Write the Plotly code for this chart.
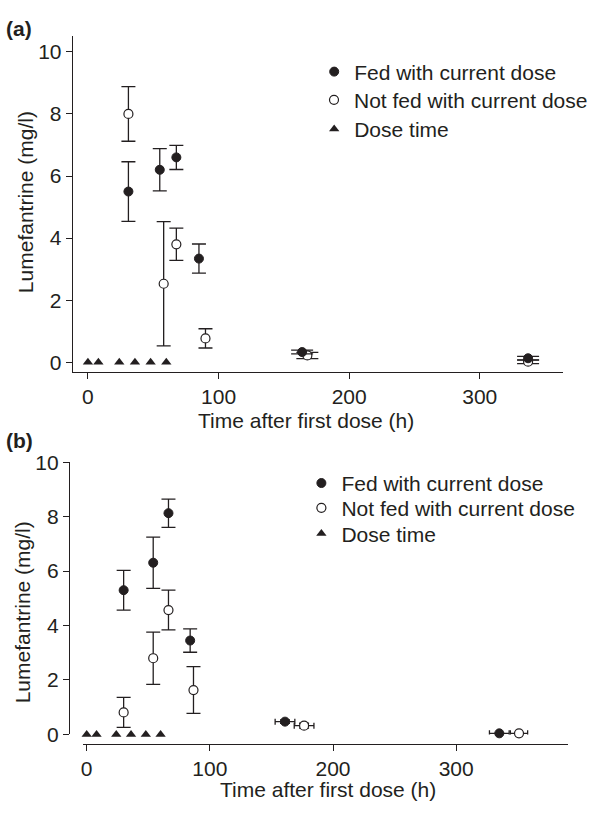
import plotly.graph_objects as go

# ---------------- data ----------------
# Panel (a)
a_fed_t = [31, 55, 67.7, 85]
a_fed_y = [5.5, 6.2, 6.6, 3.34]
a_fed_e = [0.96, 0.68, 0.39, 0.47]
a_nf_t = [31, 58, 67.7, 90]
a_nf_y = [8.0, 2.53, 3.8, 0.77]
a_nf_e = [0.88, 2.0, 0.52, 0.31]
a_fed_late_t = [164, 337]
a_fed_late_y = [0.33, 0.13]
a_fed_late_e = [0.06, 0.06]
a_nf_late_t = [168, 337]
a_nf_late_y = [0.22, 0.02]
a_nf_late_e = [0.1, 0.06]
a_dose_t = [0, 8, 24, 36, 48, 60]
a_dose_y = [0, 0, 0, 0, 0, 0]

# Panel (b)
b_fed_t = [30, 54, 66.4, 84]
b_fed_y = [5.3, 6.31, 8.13, 3.45]
b_fed_e = [0.73, 0.94, 0.52, 0.43]
b_nf_t = [30, 54, 66.4, 86.7]
b_nf_y = [0.81, 2.8, 4.57, 1.63]
b_nf_e = [0.55, 0.96, 0.73, 0.86]
b_fed_late_t = [161, 335]
b_fed_late_y = [0.47, 0.04]
b_fed_late_ex = [8, 8]
b_fed_late_ey = [0.06, 0.0]
b_nf_late_t = [176.5, 351]
b_nf_late_y = [0.32, 0.04]
b_nf_late_ex = [8, 7]
b_nf_late_ey = [0.09, 0.0]
b_dose_t = [0, 8, 24, 36, 48, 60]
b_dose_y = [0, 0, 0, 0, 0, 0]

x_ticks = [0, 100, 200, 300]
y_ticks = [0, 2, 4, 6, 8, 10]

names = ["Fed with current dose", "Not fed with current dose", "Dose time"]

# ---------------- style ----------------
INK = "#231f20"
FONT = "Liberation Sans, Arial, Helvetica, sans-serif"
FS = 21
W, H = 593, 819


def px_x(p):
    return p / W


def px_y(p):
    return 1 - p / H


fig = go.Figure()


def err(vals, width=7):
    return dict(type="data", array=vals, visible=True, color=INK, thickness=1.3, width=width)


fed_marker = dict(symbol="circle", size=9, color=INK, line=dict(color=INK, width=1))
nf_marker_fill = dict(symbol="circle", size=9, color="white", line=dict(color=INK, width=1.2))
tri_marker = dict(symbol="triangle-up", size=9, color=INK)


def add_panel(xa, ya, legends, fed_t, fed_y, fed_e, nf_t, nf_y, nf_e, dose_t, dose_y):
    fig.add_trace(go.Scatter(x=fed_t, y=fed_y, mode="markers", name=names[0],
                             marker=fed_marker, error_y=err(fed_e), xaxis=xa, yaxis=ya,
                             legend=legends[0], cliponaxis=False))
    fig.add_trace(go.Scatter(x=nf_t, y=nf_y, mode="markers", name=names[1],
                             marker=nf_marker_fill, error_y=err(nf_e), xaxis=xa, yaxis=ya,
                             legend=legends[1], cliponaxis=False))
    fig.add_trace(go.Scatter(x=dose_t, y=dose_y, mode="markers", name=names[2],
                             marker=tri_marker, xaxis=xa, yaxis=ya,
                             legend=legends[2], cliponaxis=False))


# panel (a)
add_panel("x", "y", ["legend", "legend2", "legend3"],
          a_fed_t, a_fed_y, a_fed_e, a_nf_t, a_nf_y, a_nf_e, a_dose_t, a_dose_y)
fig.add_trace(go.Scatter(x=a_nf_late_t, y=a_nf_late_y, mode="markers", showlegend=False,
                         marker=nf_marker_fill, error_y=err(a_nf_late_e, 11),
                         xaxis="x", yaxis="y", cliponaxis=False))
fig.add_trace(go.Scatter(x=a_fed_late_t, y=a_fed_late_y, mode="markers", showlegend=False,
                         marker=fed_marker, error_y=err(a_fed_late_e, 11),
                         xaxis="x", yaxis="y", cliponaxis=False))

# panel (b)
add_panel("x2", "y2", ["legend4", "legend5", "legend6"],
          b_fed_t, b_fed_y, b_fed_e, b_nf_t, b_nf_y, b_nf_e, b_dose_t, b_dose_y)
fig.add_trace(go.Scatter(x=b_fed_late_t, y=b_fed_late_y, mode="markers", showlegend=False,
                         marker=fed_marker, error_y=err(b_fed_late_ey, 5),
                         error_x=err(b_fed_late_ex, 3),
                         xaxis="x2", yaxis="y2", cliponaxis=False))
fig.add_trace(go.Scatter(x=b_nf_late_t, y=b_nf_late_y, mode="markers", showlegend=False,
                         marker=nf_marker_fill, error_y=err(b_nf_late_ey, 5),
                         error_x=err(b_nf_late_ex, 3),
                         xaxis="x2", yaxis="y2", cliponaxis=False))

axis_common = dict(showline=True, linecolor=INK, linewidth=1.3, ticks="outside",
                   ticklen=6, tickwidth=1.3, tickcolor=INK, showgrid=False, zeroline=False,
                   tickfont=dict(family=FONT, size=FS, color=INK))


def leg(xp, yp):
    return dict(x=px_x(xp), y=px_y(yp), xanchor="left", yanchor="middle",
                bgcolor="rgba(0,0,0,0)", font=dict(family=FONT, size=FS, color=INK),
                itemwidth=30, borderwidth=0)


fig.update_layout(
    width=W, height=H,
    margin=dict(l=0, r=0, t=0, b=0),
    paper_bgcolor="white", plot_bgcolor="white",
    font=dict(family=FONT, size=FS, color=INK),
    xaxis=dict(domain=[px_x(72), px_x(570)], range=[-11.5, 364], anchor="y",
               tickvals=x_ticks, **axis_common),
    yaxis=dict(domain=[px_y(370), px_y(25)], range=[-0.3, 10.5], anchor="x",
               tickvals=y_ticks, **axis_common),
    xaxis2=dict(domain=[px_x(82), px_x(575)], range=[-3.2, 391], anchor="free",
                position=px_y(753), tickvals=x_ticks, **axis_common),
    yaxis2=dict(domain=[px_y(743.3), px_y(463.3)], range=[0, 10], anchor="free",
                position=px_x(68), tickvals=y_ticks, **axis_common),
    legend=leg(317, 61.7),
    legend2=leg(317, 90.7),
    legend3=leg(317, 120.7),
    legend4=leg(304, 485),
    legend5=leg(304, 510.5),
    legend6=leg(304, 537),
    annotations=[
        dict(text="<b>(a)</b>", x=px_x(2), y=px_y(17), xref="paper", yref="paper",
             xanchor="left", yanchor="middle", showarrow=False, font=dict(size=FS, color=INK)),
        dict(text="<b>(b)</b>", x=px_x(2), y=px_y(441), xref="paper", yref="paper",
             xanchor="left", yanchor="middle", showarrow=False, font=dict(size=FS, color=INK)),
        dict(text="Time after first dose (h)", x=px_x(309), y=px_y(420), xref="paper", yref="paper",
             xanchor="center", yanchor="middle", showarrow=False, font=dict(size=FS, color=INK)),
        dict(text="Time after first dose (h)", x=px_x(331), y=px_y(800), xref="paper", yref="paper",
             xanchor="center", yanchor="middle", showarrow=False, font=dict(size=FS, color=INK)),
        dict(text="Lumefantrine (mg/l)", x=px_x(24), y=px_y(196), xref="paper", yref="paper",
             textangle=-90, xanchor="center", yanchor="middle", showarrow=False,
             font=dict(size=FS, color=INK)),
        dict(text="Lumefantrine (mg/l)", x=px_x(21), y=px_y(618), xref="paper", yref="paper",
             textangle=-90, xanchor="center", yanchor="middle", showarrow=False,
             font=dict(size=FS, color=INK)),
    ],
)

fig.write_html("out.html")
